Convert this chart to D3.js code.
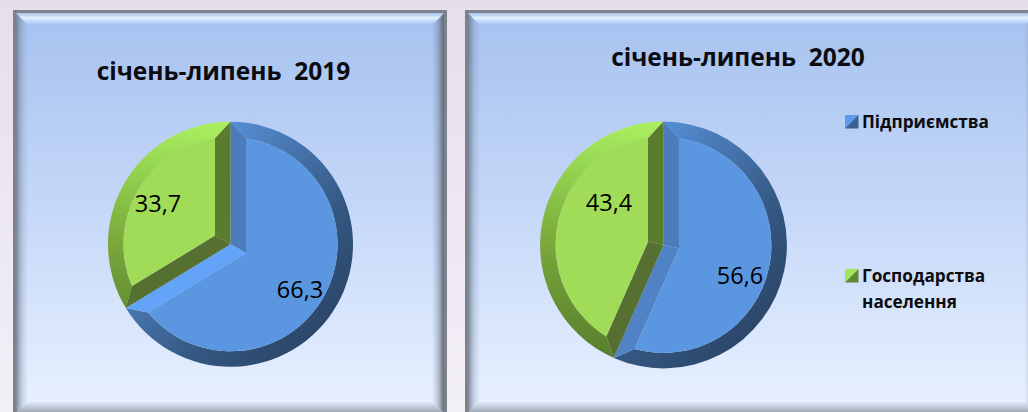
<!DOCTYPE html>
<html>
<head>
<meta charset="utf-8">
<script src="https://cdn.jsdelivr.net/npm/d3@7"></script>
<style>
  html, body { margin: 0; padding: 0; overflow: hidden; }
  svg { display: block; font-family: "Open Sans", sans-serif; }
</style>
</head>
<body>
<svg id="chart" width="1028" height="412"></svg>
<script>
// values
const periods = ["січень-липень  2019", "січень-липень  2020"];
const enterprises = [66.3, 56.6];
const households = [33.7, 43.4];
const seriesNames = ["Підприємства", "Господарства"];
const seriesNames2 = ["", "населення"];

const W = 1028, H = 412;
const svg = d3.select("#chart");
const defs = svg.append("defs");

const comma = (v) => d3.format(".1f")(v).replace(".", ",");

function linear(id, x1, y1, x2, y2, stops, units) {
  const g = defs.append("linearGradient").attr("id", id)
    .attr("gradientUnits", units || "objectBoundingBox")
    .attr("x1", x1).attr("y1", y1).attr("x2", x2).attr("y2", y2);
  stops.forEach((s) => {
    g.append("stop").attr("offset", s[0]).attr("stop-color", s[1])
      .attr("stop-opacity", s[2] === undefined ? 1 : s[2]);
  });
}

linear("page", 0, 0, 0, 1, [[0, "#e5dfeb"], [1, "#f3eff7"]]);
linear("panelBg", 0, 0, 0, 1, [[0, "#a6c2ef"], [0.5, "#c6d8f8"], [1, "#e8f1ff"]]);
linear("bevelTop", 0, 0, 0, 1, [[0, "#a3c0e6"], [0.4, "#e2f3ff"], [0.65, "#c5dcf8"], [1, "#a8c3f0"]]);
linear("bevelLeft", 0, 0, 1, 0, [[0, "#6b7482", 0.85], [0.5, "#7a8ba5", 0.3], [1, "#7a8ba5", 0]]);
linear("bevelRight", 0, 0, 1, 0, [[0, "#5c6675", 0], [0.5, "#5c6675", 0.3], [1, "#555d6a", 0.9]]);
linear("bevelBottom", 0, 0, 0, 1, [[0, "#6a7280", 0], [1, "#6a7280", 0.6]]);

svg.append("rect").attr("width", W).attr("height", H).attr("fill", "url(#page)");

// framed panels, second one runs off the right edge
const panels = [
  { x0: 13, x1: 447, y0: 10, y1: 416, bevel: 12 },
  { x0: 465, x1: 1040, y0: 10, y1: 416, bevel: 12 },
];

panels.forEach((p) => {
  const g = svg.append("g");
  g.append("rect").attr("x", p.x0).attr("y", p.y0)
    .attr("width", p.x1 - p.x0).attr("height", p.y1 - p.y0).attr("fill", "#7d828b");
  const l = p.x0 + 3, r = p.x1 - 3, t = p.y0 + 3, b = p.y1 - 3, w = p.bevel;
  g.append("rect").attr("x", l).attr("y", t).attr("width", r - l).attr("height", b - t)
    .attr("fill", "url(#panelBg)");
  const poly = (pts, fill) => g.append("polygon").attr("points", pts.join(" ")).attr("fill", fill);
  poly([[l, t], [l + w, t + w], [l + w, b - w], [l, b]], "url(#bevelLeft)");
  poly([[r, t], [r - w, t + w], [r - w, b - w], [r, b]], "url(#bevelRight)");
  poly([[l, b], [l + w, b - w], [r - w, b - w], [r, b]], "url(#bevelBottom)");
  poly([[l, t], [r, t], [r - w, t + w], [l + w, t + w]], "url(#bevelTop)");
});

// bevelled pies
const pieLayout = [
  { cx: 230.5, cy: 244.3, R: 122.5 },
  { cx: 663.5, cy: 245, R: 123.4 },
];
const bevel = 15.5;
const pie = d3.pie().sort(null).value((d) => d);

// the lower edge of the blue slice catches different light in each pie
const blueEndEdge = ["#63a3f8", "#4f83c6"];
const greenEndEdge = ["#5a7c2d", "#5a7c2d"];
const faceColors = ["#5b97e0", "#a0dc58"];
const startEdge = ["#4d7cba", "#557030"];

function polar(c, r, a) {
  return [c.cx + r * Math.sin(a), c.cy - r * Math.cos(a)];
}

function arcTo(p, c, r, a0, a1) {
  // angles measured from 12 o'clock, as in d3.pie
  p.arc(c.cx, c.cy, r, a0 - Math.PI / 2, a1 - Math.PI / 2, a1 < a0);
}

periods.forEach((name, i) => {
  const c = pieLayout[i];
  const g = svg.append("g");
  const gid = "rim" + i;
  linear(gid + "b", c.cx - c.R * 0.8, c.cy - c.R * 0.8, c.cx + c.R * 0.8, c.cy + c.R * 0.8,
    [[0, "#62a4f4"], [0.3, "#4f82c2"], [0.7, "#335680"], [1, "#2a4364"]], "userSpaceOnUse");
  linear(gid + "g", c.cx + c.R * 0.1, c.cy - c.R, c.cx - c.R * 0.2, c.cy + c.R,
    [[0, "#adf262"], [0.25, "#94d44f"], [0.55, "#7aa93c"], [1, "#567c2c"]], "userSpaceOnUse");

  const arcs = pie([enterprises[i], households[i]]);
  arcs.forEach((d, j) => {
    const a0 = d.startAngle, a1 = d.endAngle;
    const inner = c.R - bevel;
    const da = Math.asin(bevel / inner);
    const half = (a1 - a0) / 2, mid = (a0 + a1) / 2;
    const apex = polar(c, bevel / Math.sin(half), mid);
    const rimFill = `url(#${gid}${j === 0 ? "b" : "g"})`;

    // outer rim
    const rim = d3.path();
    rim.moveTo(...polar(c, c.R, a0));
    arcTo(rim, c, c.R, a0, a1);
    rim.lineTo(...polar(c, inner, a1 - da));
    arcTo(rim, c, inner, a1 - da, a0 + da);
    rim.closePath();
    g.append("path").attr("d", rim.toString()).attr("fill", rimFill);

    // the two radial facets
    const side = (a, aIn, fill) => {
      const p = d3.path();
      p.moveTo(c.cx, c.cy);
      p.lineTo(...polar(c, c.R, a));
      p.lineTo(...polar(c, inner, aIn));
      p.lineTo(...apex);
      p.closePath();
      g.append("path").attr("d", p.toString()).attr("fill", fill);
    };
    side(a0, a0 + da, j === 0 ? startEdge[0] : startEdge[1]);
    side(a1, a1 - da, j === 0 ? blueEndEdge[i] : greenEndEdge[i]);

    // flat top
    const face = d3.path();
    face.moveTo(...apex);
    face.lineTo(...polar(c, inner, a0 + da));
    arcTo(face, c, inner, a0 + da, a1 - da);
    face.closePath();
    g.append("path").attr("d", face.toString()).attr("fill", faceColors[j]);
  });
});

// text
const titlePos = [[223.5, 80], [738, 66]];
periods.forEach((name, i) => {
  svg.append("text").attr("x", titlePos[i][0]).attr("y", titlePos[i][1])
    .attr("text-anchor", "middle").attr("font-size", 24.5).attr("font-weight", 700)
    .attr("fill", "#0b0b10").attr("xml:space", "preserve").style("white-space", "pre").text(name);
});

const labelPos = [[[300, 298], [158, 212]], [[740, 284], [609, 211]]];
periods.forEach((name, i) => {
  [enterprises[i], households[i]].forEach((v, j) => {
    svg.append("text").attr("x", labelPos[i][j][0]).attr("y", labelPos[i][j][1])
      .attr("text-anchor", "middle").attr("font-size", 23.5)
      .attr("fill", "#000").text(comma(v));
  });
});

// legend
const legendY = [115, 269];
const legendLight = ["#5a9cea", "#a0e65a"];
const legendDark = ["#3a6190", "#5f8a35"];
const sw = 13.5;
seriesNames.forEach((name, j) => {
  const x = 845, y = legendY[j];
  svg.append("polygon").attr("points", [[x, y], [x + sw, y], [x, y + sw]].join(" ")).attr("fill", legendLight[j]);
  svg.append("polygon").attr("points", [[x + sw, y], [x + sw, y + sw], [x, y + sw]].join(" ")).attr("fill", legendDark[j]);
  svg.append("text").attr("x", 862).attr("y", y + 12.5)
    .attr("font-size", 17.2).attr("font-weight", 700).attr("fill", "#0b0b10").text(name);
  if (seriesNames2[j]) {
    svg.append("text").attr("x", 862).attr("y", y + 39)
      .attr("font-size", 17.2).attr("font-weight", 700).attr("fill", "#0b0b10").text(seriesNames2[j]);
  }
});
</script>
</body>
</html>
